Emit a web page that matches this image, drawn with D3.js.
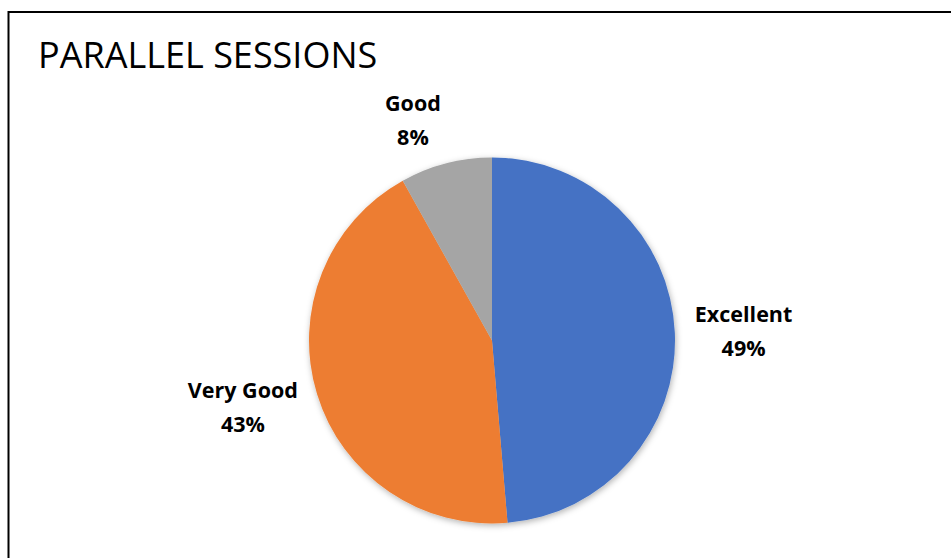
<!DOCTYPE html>
<html>
<head>
<meta charset="utf-8">
<script src="https://cdn.jsdelivr.net/npm/d3@7"></script>
<style>
  html, body { margin: 0; padding: 0; background: #fff; }
  svg { display: block; }
</style>
</head>
<body>
<svg id="chart" width="951" height="558"></svg>
<script>
// ---- data ----
const title = "PARALLEL SESSIONS";
const categories = ["Excellent", "Very Good", "Good"];
const values = [36, 32, 6];
const percentLabels = ["49%", "43%", "8%"];
const colors = ["#4472C4", "#ED7D31", "#A5A5A5"];

// ---- layout ----
const W = 951, H = 558;
const cx = 492, cy = 340.5, R = 183;
const labelGap = 20;
const fontFamily = "'Open Sans', sans-serif";
const labelSize = 21.5;
const capRatio = 0.714;

const svg = d3.select("#chart");

// frame
svg.append("rect")
  .attr("x", 8.5).attr("y", 12).attr("width", W + 20).attr("height", H + 20)
  .attr("fill", "none").attr("stroke", "#000").attr("stroke-width", 2);

// title
svg.append("text")
  .attr("x", 38).attr("y", 68)
  .attr("font-family", fontFamily)
  .attr("font-size", 36)
  .attr("fill", "#000")
  .text(title);

// shadow filter
const defs = svg.append("defs");
const f = defs.append("filter").attr("id", "shadow")
  .attr("x", "-20%").attr("y", "-20%").attr("width", "140%").attr("height", "140%");
f.append("feDropShadow").attr("dx", 1).attr("dy", 2).attr("stdDeviation", 3)
  .attr("flood-color", "#000").attr("flood-opacity", 0.3);

const pie = d3.pie().sort(null).value(d => d.value);
const data = categories.map((c, i) => ({ name: c, value: values[i], pct: percentLabels[i], color: colors[i] }));
const arcs = pie(data);
const arc = d3.arc().innerRadius(0).outerRadius(R);

const g = svg.append("g").attr("transform", `translate(${cx},${cy})`);
g.append("g").attr("filter", "url(#shadow)")
  .selectAll("path").data(arcs).join("path")
  .attr("d", arc)
  .attr("fill", d => d.data.color);

// labels
const lineH = 34;
const capH = labelSize * capRatio;
arcs.forEach(d => {
  const mid = (d.startAngle + d.endAngle) / 2;
  const s = Math.sin(mid), c = -Math.cos(mid);
  const px = (R + labelGap) * s, py = (R + labelGap) * c;
  const t = g.append("text")
    .attr("font-family", fontFamily)
    .attr("font-weight", "bold")
    .attr("font-size", labelSize)
    .attr("fill", "#000")
    .attr("text-anchor", "middle");
  t.append("tspan").attr("x", 0).attr("dy", 0).text(d.data.name);
  t.append("tspan").attr("x", 0).attr("dy", lineH).text(d.data.pct);
  const w = t.node().getBBox().width;
  const h = lineH + capH;               // visual box: cap top of line 1 to baseline of line 2
  const centerX = px + Math.sign(s) * w / 2;
  const centerY = py + c * h / 2;
  const visCenterOffset = (lineH - capH) / 2;
  t.attr("transform", `translate(${centerX},${centerY - visCenterOffset})`);
});
</script>
</body>
</html>
